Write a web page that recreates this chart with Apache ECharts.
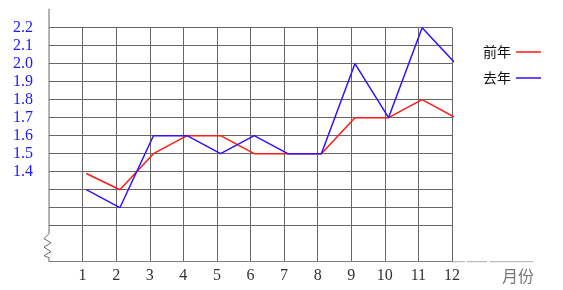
<!DOCTYPE html>
<html><head><meta charset="utf-8">
<script src="https://cdn.jsdelivr.net/npm/echarts@6/dist/echarts.min.js"></script>
<style>html,body{margin:0;padding:0;background:#fff}#c{width:563px;height:290px}</style>
</head><body><div id="c"></div>
<script>
const months = [1,2,3,4,5,6,7,8,9,10,11,12];
const xLabels = ['1','2','3','4','5','6','7','8','9','10','11','12'];
const yLabels = ['1.4','1.5','1.6','1.7','1.8','1.9','2.0','2.1','2.2'];
const seriesNames = ['前年','去年'];
const qianNian = [1.39,1.3,1.5,1.6,1.6,1.5,1.5,1.5,1.7,1.7,1.8,1.7];
const quNian   = [1.3,1.2,1.6,1.6,1.5,1.6,1.5,1.5,2.0,1.7,2.2,2.0];
const axisName = '月份';

(function () {
const gridColor = '#666';
const clear = 'rgba(0,0,0,0)';
const ySplitColors = [];
for (let i = 0; i < 14; i++) ySplitColors.push(i < 2 ? clear : gridColor);
const xSplitColors = [];
for (let i = 0; i < 13; i++) xSplitColors.push(i === 0 ? clear : gridColor);

const chart = echarts.init(document.getElementById('c'), null, {renderer: 'canvas'});
chart.setOption({
  animation: false,
  backgroundColor: '#fff',
  grid: {left: 49, top: 27.7, width: 403, height: 234, containLabel: false},
  legend: {
    orient: 'vertical', left: 478, top: 40, align: 'right',
    itemWidth: 25, itemHeight: 1.5, itemGap: 12, icon: 'rect',
    textStyle: {color: '#111', fontSize: 14, fontFamily: 'Noto Sans CJK SC'},
    data: seriesNames
  },
  xAxis: [{
    type: 'value', min: 0, max: 12, interval: 1,
    axisLine: {show: true, onZero: false, lineStyle: {color: '#808080', width: 1}},
    axisTick: {show: false},
    axisLabel: {
      formatter: v => { const i = months.indexOf(Math.round(v)); return i >= 0 ? xLabels[i] : ''; },
      color: '#333', fontFamily: 'Liberation Serif', fontSize: 16, margin: 6
    },
    splitLine: {show: true, lineStyle: {color: xSplitColors, width: 1}},
    name: axisName, nameLocation: 'end', nameGap: 50,
    nameTextStyle: {color: '#777', fontSize: 16, fontFamily: 'Noto Sans CJK SC', verticalAlign: 'top', padding: [6, 0, 0, 0]}
  }, {
    type: 'value', min: -0.11, max: 11.89, show: false
  }],
  yAxis: {
    type: 'value', min: 0.9, max: 2.2, interval: 0.1,
    axisLine: {show: false},
    axisTick: {show: false},
    axisLabel: {
      formatter: v => { const s = (Math.round(v * 10) / 10).toFixed(1); return yLabels.indexOf(s) >= 0 ? s : ''; },
      color: '#1a1aff', fontFamily: 'Liberation Serif', fontSize: 16, margin: 16
    },
    splitLine: {show: true, lineStyle: {color: ySplitColors, width: 1}}
  },
  series: [{
    name: seriesNames[0], type: 'line', xAxisIndex: 1, symbol: 'none',
    data: months.map((m, i) => [m, qianNian[i]]),
    lineStyle: {color: '#ff1a1a', width: 1.5}, itemStyle: {color: '#ff1a1a'}
  }, {
    name: seriesNames[1], type: 'line', xAxisIndex: 1, symbol: 'none',
    data: months.map((m, i) => [m, quNian[i]]),
    lineStyle: {color: '#3311ff', width: 1.5}, itemStyle: {color: '#3311ff'}
  }]
});

const tl = chart.convertToPixel({xAxisIndex: 0, yAxisIndex: 0}, [0, 2.2]);
const br = chart.convertToPixel({xAxisIndex: 0, yAxisIndex: 0}, [12, 0.9]);
const x0 = tl[0], gTop = tl[1], gRight = br[0], gBottom = br[1];
const axisStyle = {stroke: '#666', lineWidth: 1, fill: null};
chart.setOption({
  graphic: [
    {type: 'polyline', silent: true, shape: {points: [
      [x0, gTop - 19], [x0, gBottom - 28], [x0 - 5, gBottom - 23], [x0 + 2, gBottom - 19],
      [x0 - 5, gBottom - 14.5], [x0 + 2, gBottom - 10], [x0 - 5, gBottom - 6], [x0, gBottom - 4], [x0, gBottom]
    ]}, style: axisStyle},
    {type: 'line', silent: true, shape: {x1: gRight, y1: gBottom, x2: gRight + 13, y2: gBottom}, style: {stroke: '#aaa', lineWidth: 1}},
    {type: 'line', silent: true, shape: {x1: gRight + 15, y1: gBottom, x2: gRight + 35, y2: gBottom}, style: {stroke: '#aaa', lineWidth: 1}},
    {type: 'line', silent: true, shape: {x1: gRight + 38, y1: gBottom, x2: gRight + 81, y2: gBottom}, style: {stroke: '#aaa', lineWidth: 1}}
  ]
});
})();
</script></body></html>
